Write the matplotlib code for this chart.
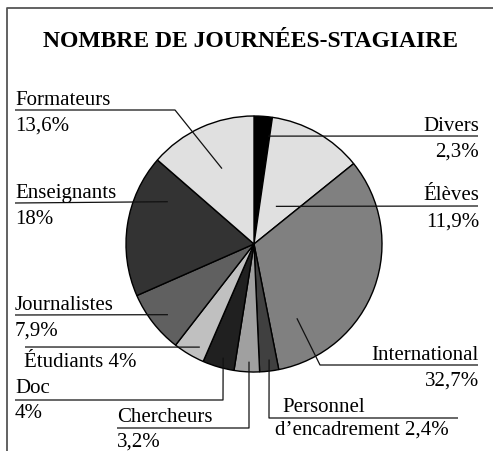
import numpy as np
import matplotlib.pyplot as plt

# Data
labels = ["Divers", "Élèves", "International", "Personnel", "Chercheurs",
          "Doc", "Étudiants", "Journalistes", "Enseignants", "Formateurs"]
shares = [2.3, 11.9, 32.7, 2.4, 3.2, 4, 4, 7.9, 18, 13.6]
colors = ["#000000", "#e0e0e0", "#808080", "#404040", "#a0a0a0",
          "#202020", "#c0c0c0", "#606060", "#333333", "#e0e0e0"]
line1 = ["Divers", "Élèves", "International", "Personnel", "Chercheurs",
         "Doc", "Étudiants 4%", "Journalistes", "Enseignants", "Formateurs"]
line2 = ["2,3%", "11,9%", "32,7%", "d\u2019encadrement 2,4%", "3,2%",
         "4%", None, "7,9%", "18%", "13,6%"]

W, H = 493, 452
CX, CY, R = 254, 245, 128
FS = 15


def py(y):
    return H - y


plt.rcParams['font.family'] = ['Liberation Serif', 'DejaVu Serif']

fig = plt.figure(figsize=(W / 100, H / 100), dpi=100)
ax = fig.add_axes([0, 0, 1, 1])

wedges, _ = ax.pie(shares, colors=colors, startangle=90, counterclock=False,
                   center=(CX, py(CY)), radius=R,
                   wedgeprops=dict(edgecolor='black', linewidth=1.0))
ax.set_xlim(0, W)
ax.set_ylim(0, H)
ax.set_aspect('equal')
ax.axis('off')

# leader anchor inside each wedge: (position along wedge, radius fraction)
anchors = [(0.9, 0.85), (0.51, 0.34), (0.84, 0.67), (0.43, 0.91), (0.43, 0.92),
           (0.43, 0.92), (0.3, 0.91), (0.45, 0.87), (0.77, 0.75), (0.53, 0.64)]

# label layout: path after the anchor (pixel coords), text x, alignment, offsets
layout = [
    dict(path=[(478, 137)], tx=479, ha='right'),
    dict(path=[(478, 207)], tx=479, ha='right', d1=-7),
    dict(path=[(320, 366), (478, 366)], tx=479, ha='right'),
    dict(path=[(269, 419), (458, 419)], tx=282, tx2=275, ha='left', d1=-7, d2=16),
    dict(path=[(249, 429), (117, 429)], tx=117, ha='left', d1=-7, d2=18),
    dict(path=[(223, 401), (15, 401)], tx=15, ha='left', d1=-8, d2=17),
    dict(path=[(25, 348)], tx=24, ha='left', d1=19),
    dict(path=[(15, 316)], tx=15, ha='left'),
    dict(path=[(15, 204)], tx=15, ha='left'),
    dict(path=[(175, 111), (15, 111)], tx=15, ha='left'),
]

for w, (t, rf), lay, s1, s2 in zip(wedges, anchors, layout, line1, line2):
    ang = np.deg2rad(w.theta2 - t * (w.theta2 - w.theta1))
    x0 = CX + rf * R * np.cos(ang)
    y0 = py(CY) + rf * R * np.sin(ang)
    xs = [x0] + [p[0] for p in lay['path']]
    ys = [y0] + [py(p[1]) for p in lay['path']]
    ax.plot(xs, ys, color='#111111', linewidth=0.9, solid_capstyle='butt')
    ly = lay['path'][-1][1]
    if s2 is None:
        ax.text(lay['tx'], py(ly + lay.get('d1', 20)), s1, ha=lay['ha'],
                va='baseline', fontsize=FS)
    else:
        ax.text(lay['tx'], py(ly + lay.get('d1', -6)), s1, ha=lay['ha'],
                va='baseline', fontsize=FS)
        ax.text(lay.get('tx2', lay['tx']), py(ly + lay.get('d2', 20)), s2,
                ha=lay['ha'], va='baseline', fontsize=FS)

ax.text(250, py(47), "NOMBRE DE JOURNÉES-STAGIAIRE", ha='center', va='baseline',
        fontsize=17, fontweight='bold')

# frame (left and top edges)
ax.plot([7, 7, W], [0, py(9), py(9)], color='#555555', linewidth=1.3)

plt.savefig('out.png', dpi=100)
